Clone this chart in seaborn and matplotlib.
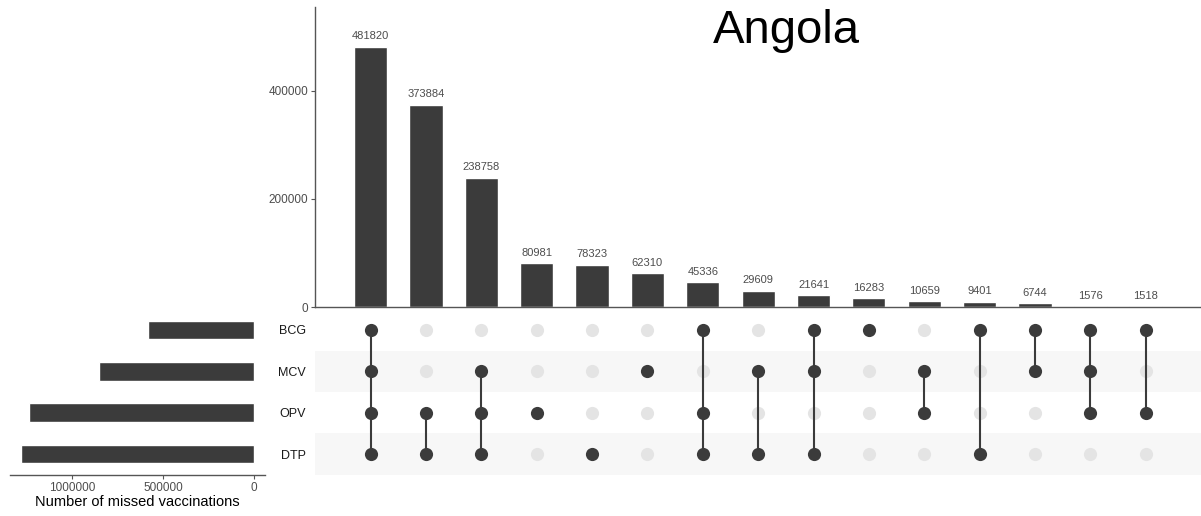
import numpy as np
import pandas as pd
import seaborn as sns
import matplotlib.pyplot as plt

# Sets (rows of the matrix, top to bottom) and their total sizes
sets = ["BCG", "MCV", "OPV", "DTP"]
set_sizes = [584319, 853117, 1234532, 1278772]

# Intersections, in plotted order
combos = [
    ["BCG", "MCV", "OPV", "DTP"],
    ["OPV", "DTP"],
    ["MCV", "OPV", "DTP"],
    ["OPV"],
    ["DTP"],
    ["MCV"],
    ["BCG", "OPV", "DTP"],
    ["MCV", "DTP"],
    ["BCG", "MCV", "DTP"],
    ["BCG"],
    ["MCV", "OPV"],
    ["BCG", "DTP"],
    ["BCG", "MCV"],
    ["BCG", "MCV", "OPV"],
    ["BCG", "OPV"],
]
counts = [481820, 373884, 238758, 80981, 78323, 62310, 45336, 29609,
          21641, 16283, 10659, 9401, 6744, 1576, 1518]

DARK = "#3b3b3b"
LIGHT = "#e4e4e4"
STRIPE = "#f7f7f7"
TICK = "#4d4d4d"

sns.set_theme(style="white")
plt.rcParams['font.family'] = ['Liberation Sans', 'DejaVu Sans']

W, H = 1201, 516
fig = plt.figure(figsize=(W / 100, H / 100), dpi=100)


def px_axes(l, t, r, b):
    return fig.add_axes([l / W, 1 - b / H, (r - l) / W, (b - t) / H])


ax_bar = px_axes(315.3, 7, 1201, 307)
ax_mat = px_axes(315.3, 309.3, 1201, 474.7)
ax_set = px_axes(10, 309.3, 265, 474.7)

# --- intersection size bars ---
labels = ["&".join(c) for c in combos]
bar_df = pd.DataFrame({"combo": labels, "count": counts})
sns.barplot(data=bar_df, x="combo", y="count", color=DARK, saturation=1,
            width=0.6, ax=ax_bar)
for i, c in enumerate(counts):
    ax_bar.annotate(str(c), (i, c), xytext=(0, 5.5), textcoords="offset points",
                    ha="center", va="baseline", fontsize=8, color=TICK)
ax_bar.set_xlim(-1, 15)
ax_bar.set_ylim(0, 555000)
ax_bar.set_xticks([])
ax_bar.set_yticks([0, 200000, 400000])
ax_bar.set_yticklabels(["0", "200000", "400000"])
ax_bar.set_xlabel("")
ax_bar.set_ylabel("")
ax_bar.tick_params(axis="y", length=3, width=0.8, color="#555555",
                   labelsize=8.5, labelcolor=TICK, pad=2, left=True)
sns.despine(ax=ax_bar)
for s in ["left", "bottom"]:
    ax_bar.spines[s].set_color("#555555")
    ax_bar.spines[s].set_linewidth(1.0)

# --- matrix ---
rows = []
for i, c in enumerate(combos):
    for j, s in enumerate(sets):
        rows.append({"col": i, "row": j, "member": s in c})
dots = pd.DataFrame(rows)

for r in [1, 3]:
    ax_mat.axhspan(r - 0.5, r + 0.5, color=STRIPE, zorder=0, lw=0)
sns.scatterplot(data=dots[~dots.member], x="col", y="row", color=LIGHT,
                s=90, linewidth=0, ax=ax_mat, zorder=2)
for i, c in enumerate(combos):
    idx = [sets.index(s) for s in c]
    if len(idx) > 1:
        ax_mat.plot([i, i], [min(idx), max(idx)], color=DARK, lw=1.5, zorder=3)
sns.scatterplot(data=dots[dots.member], x="col", y="row", color=DARK,
                s=90, linewidth=0, ax=ax_mat, zorder=4)
ax_mat.set_xlim(-1, 15)
ax_mat.set_ylim(3.5, -0.5)
ax_mat.set_xticks([])
ax_mat.set_yticks(range(len(sets)))
ax_mat.set_yticklabels(sets)
ax_mat.set_xlabel("")
ax_mat.set_ylabel("")
ax_mat.tick_params(axis="y", length=0, labelsize=9, labelcolor="#1a1a1a", pad=7)
sns.despine(ax=ax_mat, left=True, bottom=True)

# --- set size bars ---
set_df = pd.DataFrame({"set": sets, "size": set_sizes})
sns.barplot(data=set_df, x="size", y="set", orient="h", color=DARK,
            saturation=1, width=0.45, ax=ax_set)
ax_set.set_ylim(3.5, -0.5)
ax_set.set_xlim(1340659, -60440)
ax_set.set_yticks([])
ax_set.set_ylabel("")
ax_set.set_xticks([1000000, 500000, 0])
ax_set.set_xticklabels(["1000000", "500000", "0"])
ax_set.set_xlabel("Number of missed vaccinations", fontsize=10.5, color="black",
                  labelpad=1)
ax_set.tick_params(axis="x", length=3, width=0.8, color="#555555",
                   labelsize=8.5, labelcolor=TICK, pad=2, bottom=True)
sns.despine(ax=ax_set, left=True)
ax_set.spines["bottom"].set_color("#555555")
ax_set.spines["bottom"].set_linewidth(1.0)

fig.text(786 / W, 1 - 43 / H, "Angola", fontsize=34, ha="center",
         va="baseline", color="black")

fig.savefig("out.png", dpi=100)
